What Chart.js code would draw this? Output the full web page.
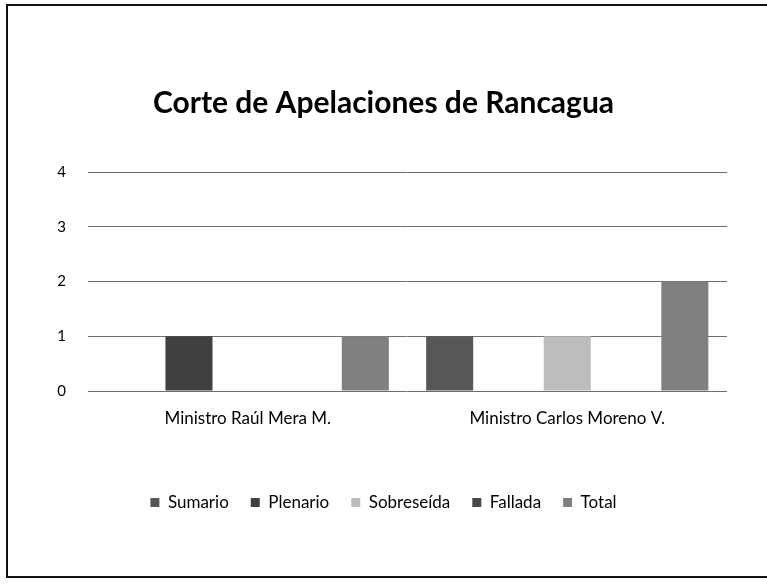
<!DOCTYPE html>
<html>
<head>
<meta charset="utf-8">
<script src="https://cdn.jsdelivr.net/npm/chart.js@4.4.0/dist/chart.umd.min.js"></script>
<style>
    html, body { margin: 0; padding: 0; background: #fff; overflow: hidden; }
    #wrap { position: relative; width: 767px; height: 584px; overflow: hidden; }
    .edge { position: absolute; background: #111; }
    #edgeTop { left: 6px; top: 4px; width: 761px; height: 2px; }
    #edgeLeft { left: 6px; top: 4px; width: 2px; height: 574px; }
    #edgeBottom { left: 6px; top: 576px; width: 761px; height: 2px; }
    #chart { position: absolute; left: 0; top: 0; }
</style>
</head>
<body>
<div id="wrap">
    <div class="edge" id="edgeTop"></div>
    <div class="edge" id="edgeLeft"></div>
    <div class="edge" id="edgeBottom"></div>
    <canvas id="chart" width="767" height="584"></canvas>
</div>
<script>
// Data
const categories = ['Ministro Raúl Mera M.', 'Ministro Carlos Moreno V.'];
const sumario = [0, 1];
const plenario = [1, 0];
const sobreseida = [0, 1];
const fallada = [0, 0];
const total = [1, 2];
const yTicks = [0, 1, 2, 3, 4];

const fontFamily = 'Lato, "Open Sans", sans-serif';

const chart = new Chart(document.getElementById('chart'), {
    type: 'bar',
    data: {
        labels: categories,
        datasets: [
            { label: 'Sumario', data: sumario, backgroundColor: '#575757' },
            { label: 'Plenario', data: plenario, backgroundColor: '#404040' },
            { label: 'Sobreseída', data: sobreseida, backgroundColor: '#bdbdbd' },
            { label: 'Fallada', data: fallada, backgroundColor: '#484848' },
            { label: 'Total', data: total, backgroundColor: '#808080' }
        ]
    },
    options: {
        responsive: false,
        animation: false,
        categoryPercentage: 0.92,
        barPercentage: 0.8,
        layout: {
            padding: { top: 85, left: 40, right: 40, bottom: 63 }
        },
        plugins: {
            title: {
                display: true,
                text: 'Corte de Apelaciones de Rancagua',
                color: '#000',
                font: { family: fontFamily, size: 30, weight: 'bold' },
                padding: { top: 0, bottom: 51 }
            },
            legend: {
                position: 'bottom',
                labels: {
                    color: '#000',
                    boxWidth: 9,
                    boxHeight: 9,
                    padding: 22,
                    font: { family: fontFamily, size: 17 }
                }
            },
            tooltip: { enabled: false }
        },
        scales: {
            x: {
                grid: { display: false },
                border: { display: false },
                ticks: {
                    color: '#000',
                    padding: 9,
                    font: { family: fontFamily, size: 17 }
                },
                afterFit: (scale) => { scale.height = 81; }
            },
            y: {
                min: 0,
                max: 4,
                afterBuildTicks: (scale) => {
                    scale.ticks = yTicks.map(v => ({ value: v }));
                },
                grid: { color: '#6e6e6e', lineWidth: 1, drawTicks: false },
                border: { display: false },
                ticks: {
                    color: '#000',
                    padding: 22,
                    font: { family: fontFamily, size: 15 }
                },
                afterFit: (scale) => { scale.width = 48; }
            }
        }
    }
});
</script>
</body>
</html>
